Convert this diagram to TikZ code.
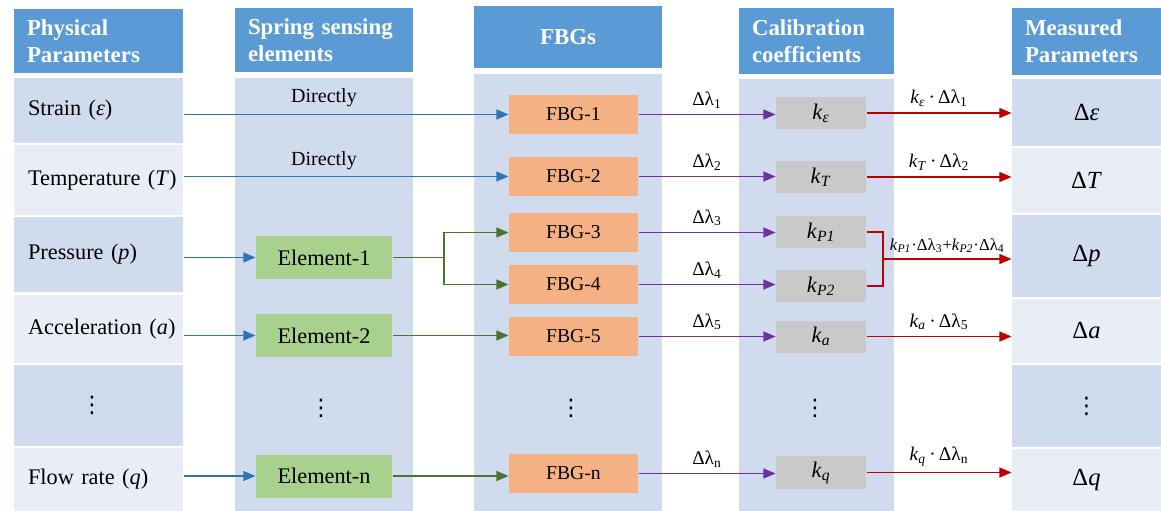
\documentclass[tikz,border=0pt]{standalone}
\usepackage{fontspec}
\setmainfont{Liberation Serif}
\newfontfamily\symfont{DejaVu Sans}
\usetikzlibrary{arrows.meta}
\definecolor{hdrblue}{HTML}{5B9BD5}
\definecolor{rowdark}{HTML}{D0DCEE}
\definecolor{rowlight}{HTML}{E8EDF6}
\definecolor{fbgorange}{HTML}{F4B183}
\definecolor{elemgreen}{HTML}{A9D18E}
\definecolor{coefgray}{HTML}{C9C9C9}
\definecolor{arrblue}{HTML}{2E75B6}
\definecolor{arrgreen}{HTML}{4A7430}
\definecolor{arrpurple}{HTML}{7030A0}
\definecolor{arrred}{HTML}{C00000}
\newcommand{\vdot}{{\symfont\fontsize{13}{15}\selectfont ⋮}}

\begin{document}
\begin{tikzpicture}[x=0.02cm,y=-0.02cm,font=\fontsize{12.7}{15}\selectfont,line width=0.6pt,
  hdr/.style={fill=hdrblue,text=white,font=\fontsize{13}{15.3}\selectfont\bfseries,inner xsep=0.26cm,align=left},
  row/.style={minimum width=3.38cm,text width=3.38cm,inner xsep=0pt,align=left,execute at begin node=\hspace*{0.28cm}},
  meas/.style={minimum width=2.98cm,font=\fontsize{14}{16}\selectfont},
  elem/.style={fill=elemgreen,minimum width=2.72cm,minimum height=0.86cm},
  fbg/.style={fill=fbgorange,minimum width=2.58cm,minimum height=0.78cm,font=\fontsize{11.2}{13}\selectfont},
  coef/.style={fill=coefgray,minimum width=1.8cm,minimum height=0.64cm},
  flow/.style={-{Triangle[length=0.24cm,width=0.2cm]}},
  small/.style={font=\fontsize{11}{13}\selectfont}]
\useasboundingbox (0,0) rectangle (1161,511);
% column panels
\fill[rowdark] (235,78) rectangle (413,511);
\fill[rowdark] (474,74) rectangle (662,511);
\fill[rowdark] (739,79) rectangle (894,511);
% headers
\node[hdr,minimum height=1.3cm,text width=2.86cm] (h1) at (98.5,41) {Physical\\Parameters};
\node[hdr,minimum height=1.3cm,text width=3.04cm] (h2) at (324,40) {Spring sensing\\elements};
\node[hdr,minimum height=1.24cm,text width=3.24cm,align=center] (h3) at (568,37) {FBGs};
\node[hdr,minimum height=1.32cm,text width=2.58cm] (h4) at (816.5,41) {Calibration\\coefficients};
\node[hdr,minimum height=1.34cm,text width=2.46cm] (h5) at (1086.5,41.5) {Measured\\Parameters};
% physical parameters
\foreach \n/\y/\h/\c/\t in {r1/110.5/1.30/rowdark/{Strain (\textit{ε})},
  r2/180/1.40/rowlight/{Temperature (\textit{T})},r3/254.5/1.50/rowdark/{Pressure (\textit{p})},
  r4/329/1.36/rowlight/{Acceleration (\textit{a})},r5/405.5/1.62/rowdark/{\hspace*{1.05cm}\vdot},
  r6/479.5/1.26/rowlight/{Flow rate (\textit{q})}}
  \node[row,fill=\c,minimum height=\h cm] (\n) at (98.5,\y) {\t};
% measured parameters
\foreach \n/\y/\h/\c/\t in {m1/112.5/1.34/rowdark/{Δ\textit{ε}},m2/180.5/1.30/rowlight/{Δ\textit{T}},
  m3/256/1.64/rowdark/{Δ\textit{p}},m4/331/1.28/rowlight/{Δ\textit{a}},
  m5/406/1.64/rowdark/{\vdot},m6/480/1.24/rowlight/{Δ\textit{q}}}
  \node[meas,fill=\c,minimum height=\h cm] (\n) at (1086.5,\y) {\t};
% boxes
\foreach \n/\y/\t in {e1/257.5/Element-1,e2/335.5/Element-2,en/476/Element-n}
  \node[elem] (\n) at (324,\y) {\t};
\foreach \n/\y/\t in {f1/114.5/FBG-1,f2/176.5/FBG-2,f3/232.5/FBG-3,f4/284.5/FBG-4,f5/336.5/FBG-5,fn/473.5/FBG-n}
  \node[fbg] (\n) at (573.5,\y) {\t};
\foreach \n/\y/\s in {k1/113/ε,k2/177/T,k3/232/P1,k4/286/P2,k5/336.5/a,kn/472.5/q}
  \node[coef] (\n) at (821,\y) {\textit{k}\textsubscript{\textit{\s}}};
\node[font=\fontsize{11.4}{13}\selectfont] (d1) at (324,98) {Directly};
\node[font=\fontsize{11.4}{13}\selectfont] (d2) at (324,161) {Directly};
\node (v2) at (321,408) {\vdot};
\node (v3) at (571,408) {\vdot};
\node (v4) at (815,408) {\vdot};
% connectors
\draw[flow,arrblue] (r1.east |- f1.west) -- (f1.west);
\draw[flow,arrblue] (r2.east |- f2.west) -- (f2.west);
\draw[flow,arrblue] (r3.east |- e1.west) -- (e1.west);
\draw[flow,arrblue] (r4.east |- e2.west) -- (e2.west);
\draw[flow,arrblue] (r6.east |- en.west) -- (en.west);
\coordinate (sp) at (444,257.5);
\draw[arrgreen] (e1.east) -- (sp);
\draw[flow,arrgreen] (sp) |- (f3.west);
\draw[flow,arrgreen] (sp) |- (f4.west);
\draw[flow,arrgreen] (e2.east) -- (e2.east -| f5.west);
\draw[flow,arrgreen] (en.east) -- (en.east -| fn.west);
\foreach \a/\b/\i in {f1/k1/1,f2/k2/2,f3/k3/3,f4/k4/4,f5/k5/5,fn/kn/n}
  \draw[flow,arrpurple] (\a.east) -- (\a.east -| \b.west) node[midway,above,small,text=black] (l\i) {Δλ\textsubscript{\i}};
\foreach \a/\b/\s/\i in {k1/m1/ε/1,k2/m2/T/2,k5/m4/a/5,kn/m6/q/n}
  \draw[flow,arrred] (\a.east) -- (\a.east -| \b.west) node[midway,above,small,text=black] (o\i) {\textit{k}\textsubscript{\textit{\s}}\,·\,Δλ\textsubscript{\i}};
\coordinate (br) at (883,259);
\draw[arrred] (k3.east) -| (br) |- (k4.east);
\draw[flow,arrred] (br) -- (br -| m3.west) node[midway,above,font=\fontsize{9.5}{11}\selectfont,text=black] (op) {\textit{k}\textsubscript{\textit{P1}}·Δλ\textsubscript{3}+\textit{k}\textsubscript{\textit{P2}}·Δλ\textsubscript{4}};
\end{tikzpicture}
\end{document}
